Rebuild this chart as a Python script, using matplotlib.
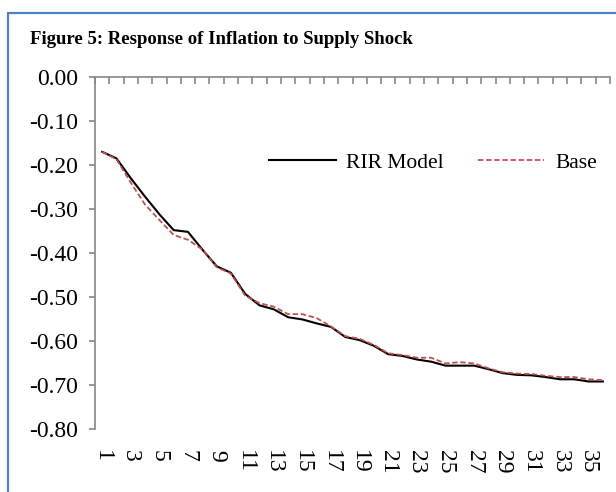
import matplotlib
matplotlib.use("Agg")
import matplotlib.pyplot as plt
from matplotlib.patches import Rectangle
import numpy as np

periods = list(range(1, 37))
rir_model = [-0.170, -0.185, -0.230, -0.272, -0.312, -0.348, -0.352, -0.392, -0.430, -0.445,
             -0.493, -0.519, -0.528, -0.546, -0.551, -0.560, -0.568, -0.591, -0.598, -0.611,
             -0.630, -0.634, -0.642, -0.647, -0.656, -0.656, -0.656, -0.664, -0.673, -0.677,
             -0.678, -0.682, -0.687, -0.687, -0.692, -0.692]
base = [-0.170, -0.187, -0.240, -0.290, -0.325, -0.359, -0.370, -0.392, -0.432, -0.447,
        -0.497, -0.514, -0.522, -0.539, -0.539, -0.548, -0.567, -0.589, -0.595, -0.609,
        -0.628, -0.632, -0.638, -0.638, -0.651, -0.648, -0.651, -0.662, -0.671, -0.674,
        -0.675, -0.679, -0.682, -0.682, -0.687, -0.689]
y_ticks = [0.0, -0.1, -0.2, -0.3, -0.4, -0.5, -0.6, -0.7, -0.8]
x_labels = [str(p) for p in periods if p % 2 == 1]

plt.rcParams['font.family'] = ['Liberation Serif', 'DejaVu Serif']

W, H = 616, 492
fig = plt.figure(figsize=(W / 100, H / 100), dpi=100)

# chart frame
fig.patches.append(Rectangle((8 / W, -0.1), 1.2, 1 - 13 / H + 0.1, transform=fig.transFigure,
                             fill=False, edgecolor='#4F81BD', linewidth=1.6))

fig.text(30 / W, 1 - 39 / H, "Figure 5: Response of Inflation to Supply Shock",
         fontsize=13.5, fontweight='bold', va='center', ha='left')

left, right, top, bottom = 95 / W, 610 / W, 1 - 77 / H, 1 - 429 / H
ax = fig.add_axes([left, bottom, right - left, top - bottom])

ax.plot(periods, rir_model, color='black', lw=1.5, label='RIR Model')
ax.plot(periods, base, color='#C0504D', lw=1.3, ls=(0, (3, 1.5)), label='Base')

ax.set_xlim(0.5, 36.5)
ax.set_ylim(-0.8, 0.0)
ax.set_yticks(y_ticks)
ax.set_yticklabels([f"{v:.2f}" for v in y_ticks], fontsize=17)

gray = '#868686'
for s in ['bottom', 'right']:
    ax.spines[s].set_visible(False)
for s in ['top', 'left']:
    ax.spines[s].set_color(gray)
    ax.spines[s].set_linewidth(1.2)

ax.tick_params(axis='y', direction='out', length=4.5, color=gray, width=1.2, pad=8)

odd = [p for p in periods if p % 2 == 1]
ax.set_xticks(odd)
ax.set_xticklabels(x_labels, rotation=-90, fontsize=17)
ax.tick_params(axis='x', which='major', length=0, bottom=False, top=False,
               labelbottom=True, labeltop=False, pad=15)
ax.set_xticks(np.arange(0.5, 37, 1), minor=True)
ax.tick_params(axis='x', which='minor', top=True, bottom=False, direction='in',
               length=5, color=gray, width=1.2)

leg = ax.legend(loc='upper left', bbox_to_anchor=(263 / W, 1 - 146 / H),
                bbox_transform=fig.transFigure, ncol=2, frameon=False, fontsize=15.5,
                handlelength=3.07, columnspacing=1.6, handletextpad=0.5,
                borderaxespad=0, borderpad=0.3)

fig.savefig('out.png', dpi=100)
